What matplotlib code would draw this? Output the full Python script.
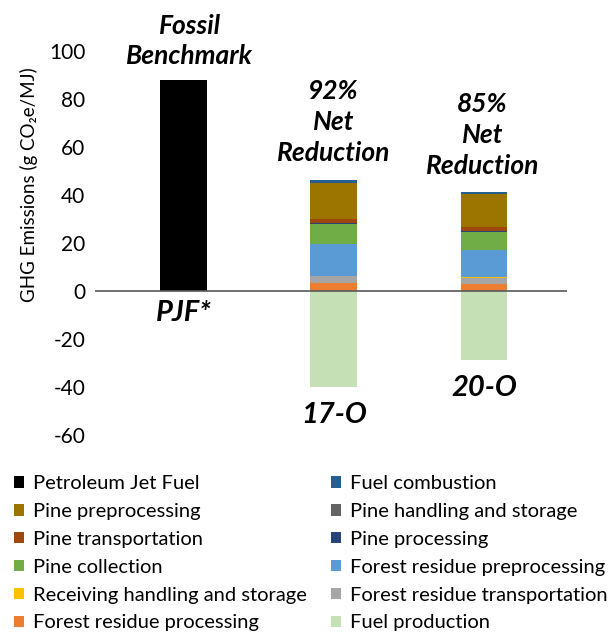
import matplotlib
matplotlib.use("Agg")
import matplotlib.pyplot as plt
from matplotlib.patches import Patch

plt.rcParams['font.family'] = ['Lato', 'DejaVu Sans']

categories = ['PJF*', '17-O', '20-O']

# stacking order bottom -> top (positive parts)
series_names = [
    'Forest residue processing',
    'Forest residue transportation',
    'Receiving handling and storage',
    'Forest residue preprocessing',
    'Pine collection',
    'Pine processing',
    'Pine transportation',
    'Pine handling and storage',
    'Pine preprocessing',
    'Fuel combustion',
    'Petroleum Jet Fuel',
]
forest_residue_processing = [0, 3.2, 2.8]
forest_residue_transportation = [0, 3.0, 2.8]
receiving_handling_storage = [0, 0.1, 0.1]
forest_residue_preprocessing = [0, 13.3, 11.5]
pine_collection = [0, 8.2, 7.3]
pine_processing = [0, 0.4, 0.3]
pine_transportation = [0, 1.7, 1.8]
pine_handling_storage = [0, 0.1, 0.1]
pine_preprocessing = [0, 15.2, 13.8]
fuel_combustion = [0, 1.1, 0.8]
petroleum_jet_fuel = [88, 0, 0]
fuel_production = [0, -40, -28.7]

series_values = [
    forest_residue_processing, forest_residue_transportation,
    receiving_handling_storage, forest_residue_preprocessing,
    pine_collection, pine_processing, pine_transportation,
    pine_handling_storage, pine_preprocessing, fuel_combustion,
    petroleum_jet_fuel,
]
colors = {
    'Petroleum Jet Fuel': '#000000',
    'Fuel combustion': '#255E91',
    'Pine preprocessing': '#9C7400',
    'Pine handling and storage': '#636363',
    'Pine transportation': '#9E480E',
    'Pine processing': '#264478',
    'Pine collection': '#70AD47',
    'Forest residue preprocessing': '#5B9BD5',
    'Receiving handling and storage': '#FFC000',
    'Forest residue transportation': '#A5A5A5',
    'Forest residue processing': '#ED7D31',
    'Fuel production': '#C5E0B4',
}

yticks = [-60, -40, -20, 0, 20, 40, 60, 80, 100]

fig = plt.figure(figsize=(6.08, 6.35), dpi=100)
ax = fig.add_axes([95/608, (635-435)/635, (567-95)/608, (435-51)/635])

x = list(range(len(categories)))
w = 0.31
bottom = [0.0]*len(categories)
for name, vals in zip(series_names, series_values):
    ax.bar(x, vals, w, bottom=bottom, color=colors[name], linewidth=0, zorder=2)
    bottom = [b + v for b, v in zip(bottom, vals)]
ax.bar(x, fuel_production, w, color=colors['Fuel production'], linewidth=0, zorder=2)

ax.axhline(0, color='#595959', lw=1.2, zorder=3)
ax.set_xlim(-0.589, 2.552)
ax.set_ylim(-60, 100)
ax.set_yticks(yticks)
ax.set_yticklabels([str(t) for t in yticks])
ax.set_xticks([])
ax.tick_params(axis='y', length=0, pad=7, labelsize=15, colors='#000000')
for s in ax.spines.values():
    s.set_visible(False)

fig.text(29/608, 1 - 185/635, 'GHG Emissions (g CO\u2082e/MJ)', rotation=90,
         ha='center', va='center', fontsize=13.5)

bold = dict(fontweight='bold', fontstyle='italic', ha='center', va='center')
cat_y = [-9.2, -51.7, -40.4]
for xi, lab, yy in zip(x, categories, cat_y):
    ax.text(xi, yy, lab, fontsize=21, clip_on=False, **bold)

ax.text(0.04, 104.2, 'Fossil\nBenchmark', fontsize=19, linespacing=1.33, clip_on=False, **bold)
ax.text(1.0, 70.4, '92%\nNet\nReduction', fontsize=19, linespacing=1.33, clip_on=False, **bold)
ax.text(1.99, 65.0, '85%\nNet\nReduction', fontsize=19, linespacing=1.33, clip_on=False, **bold)

col1 = ['Petroleum Jet Fuel', 'Pine preprocessing', 'Pine transportation',
        'Pine collection', 'Receiving handling and storage', 'Forest residue processing']
col2 = ['Fuel combustion', 'Pine handling and storage', 'Pine processing',
        'Forest residue preprocessing', 'Forest residue transportation', 'Fuel production']
order = col1 + col2
handles = [Patch(facecolor=colors[n], edgecolor='none') for n in order]
fig.legend(handles, order, ncol=2, loc='upper left', bbox_to_anchor=(0.013, 1 - 469/635),
           frameon=False, fontsize=14.5, handlelength=0.5, handleheight=0.5,
           handletextpad=0.45, columnspacing=1.2, labelspacing=0.54, borderaxespad=0,
           borderpad=0.3)

fig.savefig('out.png', dpi=100)
